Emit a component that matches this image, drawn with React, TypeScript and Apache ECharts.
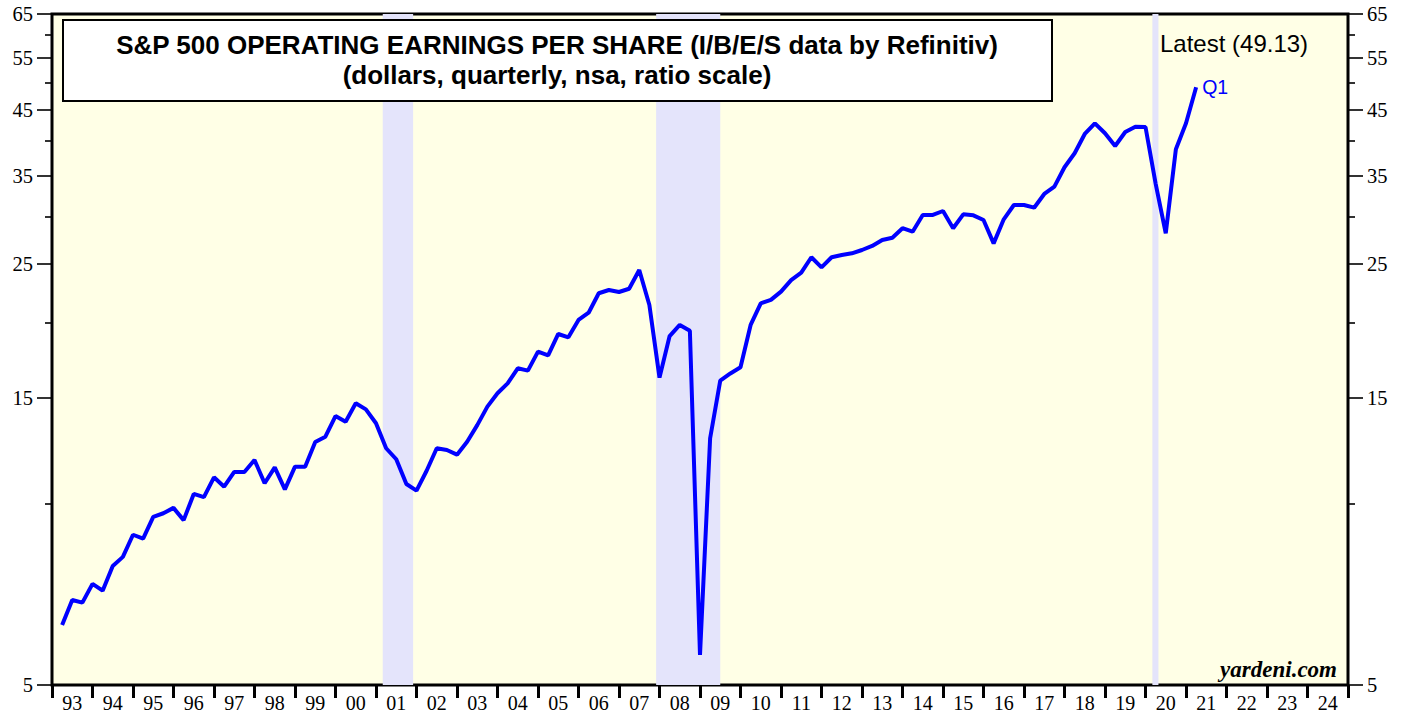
import React, { useEffect, useRef } from "react";
import * as echarts from "echarts";

// Quarterly S&P 500 operating EPS, 1993 Q1 .. 2021 Q1 (dollars)
const startYear = 1993;
const eps = [
  6.29, 6.92, 6.85, 7.36, // 1993
  7.17, 7.88, 8.16, 8.88, // 1994
  8.75, 9.51, 9.64, 9.84, // 1995
  9.39, 10.38, 10.25, 11.06, // 1996
  10.67, 11.29, 11.29, 11.82, // 1997
  10.81, 11.49, 10.56, 11.52, // 1998
  11.52, 12.66, 12.92, 13.98, // 1999
  13.68, 14.68, 14.34, 13.6, // 2000
  12.36, 11.85, 10.78, 10.51, // 2001
  11.34, 12.36, 12.28, 12.06, // 2002
  12.67, 13.5, 14.49, 15.25, // 2003
  15.84, 16.78, 16.63, 17.88, // 2004
  17.63, 19.13, 18.89, 20.18, // 2005
  20.75, 22.35, 22.63, 22.46, // 2006
  22.74, 24.43, 21.37, 16.19, // 2007
  18.98, 19.8, 19.37, 5.61, // 2008
  12.84, 16.0, 16.45, 16.84, // 2009
  19.8, 21.51, 21.79, 22.49, // 2010
  23.5, 24.18, 25.65, 24.68, // 2011
  25.65, 25.87, 26.04, 26.37, // 2012
  26.78, 27.4, 27.64, 28.66, // 2013
  28.28, 30.15, 30.15, 30.61, // 2014
  28.66, 30.22, 30.11, 29.58, // 2015
  27.05, 29.65, 31.32, 31.32, // 2016
  31.0, 32.67, 33.6, 36.18, // 2017
  38.17, 41.09, 42.8, 41.2, // 2018
  39.25, 41.4, 42.25, 42.2, // 2019
  34.0, 28.11, 38.76, 42.8, // 2020
  49.13, // 2021
];

const yearLabels = [
  "93", "94", "95", "96", "97", "98", "99", "00", "01", "02", "03",
  "04", "05", "06", "07", "08", "09", "10", "11", "12", "13", "14",
  "15", "16", "17", "18", "19", "20", "21", "22", "23", "24",
];

const yMajorTicks = [5, 15, 25, 35, 45, 55, 65];
const yMinorTicks = [10, 20, 30, 40, 50, 60];

// Recessions (decimal years)
const recessions = [
  [2001.1667, 2001.9167],
  [2007.9167, 2009.5],
  [2020.17, 2020.32],
];

const titleLine1 = "S&P 500 OPERATING EARNINGS PER SHARE (I/B/E/S data by Refinitiv)";
const titleLine2 = "(dollars, quarterly, nsa, ratio scale)";
const latestText = "Latest (49.13)";
const sourceText = "yardeni.com";

function yAxisDef(position: "left" | "right", major: boolean) {
  return {
    type: "log",
    logBase: 10,
    min: 5,
    max: 65,
    position,
    axisLine: { show: false },
    splitLine: { show: false },
    minorTick: { show: false },
    minorSplitLine: { show: false },
    axisTick: {
      show: true,
      inside: false,
      length: major ? 15 : 7,
      customValues: major ? yMajorTicks : yMinorTicks,
      lineStyle: { color: "#000", width: 1.6 },
    },
    axisLabel: {
      show: major,
      customValues: yMajorTicks,
      margin: 19,
      color: "#000",
      fontSize: 20.5,
      fontFamily: "Liberation Serif",
      formatter: (v: number) => String(Math.round(v)),
    },
  };
}

export default function App() {
  const ref = useRef<HTMLDivElement>(null);

  useEffect(() => {
    document.body.style.margin = "0";
    if (!ref.current) return;
    const chart = echarts.init(ref.current, null, { renderer: "svg" });

    const lineData = eps.map((v, i) => [startYear + (i + 1) / 4, v]);

    const titleFont = "bold 26px 'Liberation Sans', Arial, sans-serif";

    const option: any = {
      animation: false,
      backgroundColor: "#ffffff",
      grid: {
        left: 52,
        right: 59,
        top: 14,
        bottom: 32,
        show: true,
        backgroundColor: "#ffffe6",
        borderColor: "#000",
        borderWidth: 3,
        containLabel: false,
      },
      xAxis: [
        {
          type: "value",
          min: 1993,
          max: 2025,
          show: false,
          splitLine: { show: false },
        },
        {
          type: "category",
          data: yearLabels,
          boundaryGap: true,
          position: "bottom",
          axisLine: { show: false },
          splitLine: { show: false },
          axisTick: {
            show: true,
            interval: 0,
            length: 13,
            alignWithLabel: false,
            lineStyle: { color: "#000", width: 3 },
          },
          axisLabel: {
            interval: 0,
            margin: 8,
            color: "#000",
            fontSize: 20,
            fontFamily: "Liberation Serif",
          },
        },
      ],
      yAxis: [
        yAxisDef("left", true),
        yAxisDef("left", false),
        yAxisDef("right", true),
        yAxisDef("right", false),
      ],
      series: [
        {
          type: "line",
          xAxisIndex: 0,
          yAxisIndex: 0,
          data: lineData,
          showSymbol: false,
          symbol: "none",
          lineStyle: { color: "#0000ff", width: 4 },
          endLabel: {
            show: true,
            formatter: "Q1",
            color: "#0000ff",
            fontSize: 19.5,
            fontFamily: "Liberation Sans",
            distance: 6,
          },
          markArea: {
            silent: true,
            itemStyle: { color: "#e4e4fb", opacity: 1 },
            data: recessions.map((r) => [{ xAxis: r[0] }, { xAxis: r[1] }]),
          },
          z: 3,
        },
      ],
      graphic: [
        {
          type: "rect",
          z: 100,
          shape: { x: 63, y: 20, width: 989, height: 81 },
          style: { fill: "#ffffff", stroke: "#000", lineWidth: 2 },
        },
        {
          type: "text",
          z: 101,
          x: 557,
          y: 45,
          style: {
            text: titleLine1,
            fill: "#000",
            font: titleFont,
            textAlign: "center",
            textVerticalAlign: "middle",
          },
        },
        {
          type: "text",
          z: 101,
          x: 557,
          y: 75,
          style: {
            text: titleLine2,
            fill: "#000",
            font: titleFont,
            textAlign: "center",
            textVerticalAlign: "middle",
          },
        },
        {
          type: "text",
          z: 101,
          x: 1160,
          y: 43,
          style: {
            text: latestText,
            fill: "#000",
            font: "24px 'Liberation Sans', Arial, sans-serif",
            textAlign: "left",
            textVerticalAlign: "middle",
          },
        },
        {
          type: "text",
          z: 101,
          x: 1337,
          y: 669,
          style: {
            text: sourceText,
            fill: "#000",
            font: "italic bold 23px 'Liberation Serif', 'Times New Roman', serif",
            textAlign: "right",
            textVerticalAlign: "middle",
          },
        },
      ],
    };

    chart.setOption(option);
    return () => chart.dispose();
  }, []);

  return <div ref={ref} style={{ width: 1407, height: 717 }} />;
}
